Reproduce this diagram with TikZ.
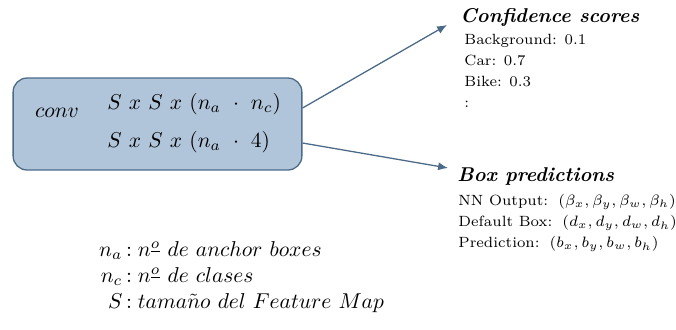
\documentclass[tikz,border=0pt]{standalone}
\usepackage{amsmath}
\usepackage{amsfonts}
\usetikzlibrary{shapes, arrows.meta, positioning}
\definecolor{boxfill}{RGB}{176,196,218}
\definecolor{boxedge}{RGB}{76,106,136}
\tikzstyle{block}=[draw=boxedge,fill=boxfill,rectangle,rounded corners=6.5pt,line width=0.6pt]
\tikzstyle{label}=[inner sep=0pt]
\tikzstyle{title}=[inner sep=0pt,font=\fontsize{9.3}{11}\selectfont\bfseries\itshape]
\tikzstyle{list}=[inner sep=0pt,align=left,font=\fontsize{6.9}{9.8}\selectfont]
\tikzstyle{arrow}=[draw=boxedge,line width=0.6pt,-{Latex[length=4.6pt,width=3.8pt]}]

\begin{document}
\begin{tikzpicture}[x=0.01635cm,y=-0.01635cm]
    \useasboundingbox (0,0) rectangle (676,329);
    \node[block, minimum width=134.4pt, minimum height=42.8pt] (convbox) at (157.5,124) {};
    \node[label] (conv) at (57,113) {$conv$};
    \node[label, anchor=west] (f1) at (107,104) {$S\ x\ S\ x\ (n_a\ \cdot\ n_c)$};
    \node[label, anchor=west] (f2) at (107,142) {$S\ x\ S\ x\ (n_a\ \cdot\ 4)$};

    \node[title, anchor=base west] (conf) at (460,22) {Confidence scores};
    \node[list, anchor=north west] (scores) at (464,34) {Background: 0.1\\Car: 0.7\\Bike: 0.3\\:};
    \draw[arrow] (convbox.east |- 0,108) -- (447,25);

    \node[title, anchor=base west] (preds) at (457,181) {Box predictions};
    \node[list, anchor=north west] (boxes) at (458,194) {NN Output:\, $(\beta_x,\beta_y,\beta_w,\beta_h)$\\Default Box:\, $(d_x,d_y,d_w,d_h)$\\Prediction:\, $(b_x,b_y,b_w,b_h)$};
    \draw[arrow] (convbox.east |- 0,143) -- (448,168);

    \node[label, anchor=north west] (legend) at (88,238) {$\begin{array}{r@{\,:\;}l}
        n_a & n^{\underline{o}}\ de\ anchor\ boxes\\
        n_c & n^{\underline{o}}\ de\ clases\\
        S & tama\tilde{n}o\ del\ Feature\ Map
    \end{array}$};
\end{tikzpicture}
\end{document}
